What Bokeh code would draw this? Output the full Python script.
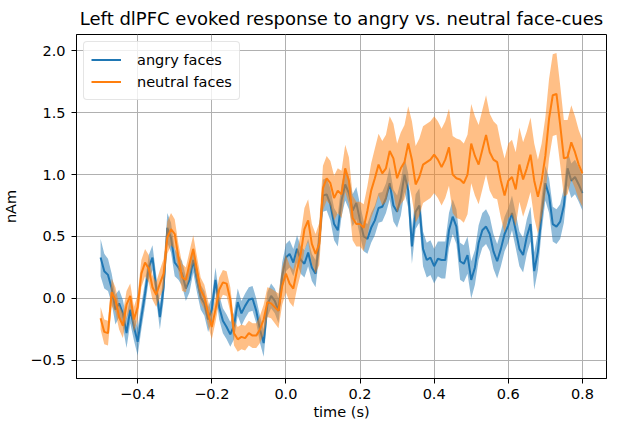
import numpy as np
from bokeh.plotting import figure
from bokeh.models import FixedTicker, Range1d
from bokeh.embed import file_html
from bokeh.resources import INLINE

# sample times: -0.50 .. 0.80 s, step 0.01 s
t_first = -0.5
t_step = 0.01

angry = [0.33, 0.22, 0.19, 0.08, -0.09, -0.04, -0.12, -0.28, -0.09, -0.23,
         -0.35, -0.15, 0.04, 0.25, 0.33, 0.09, -0.15, 0.09, 0.57, 0.49,
         0.29, 0.25, 0.20, 0.08, 0.15, 0.31, 0.15, 0.01, -0.04, -0.17,
         -0.09, 0.15, -0.07, -0.18, -0.23, -0.29, -0.22, -0.03, -0.12, -0.06,
         -0.01, 0.00, -0.10, -0.25, -0.36, -0.05, 0.02, -0.02, -0.10, 0.18,
         0.33, 0.36, 0.29, 0.40, 0.31, 0.28, 0.37, 0.25, 0.20, 0.47,
         0.83, 0.84, 0.76, 0.60, 0.55, 0.79, 0.92, 0.85, 0.71, 0.77,
         0.63, 0.50, 0.48, 0.57, 0.63, 0.73, 0.74, 0.81, 0.93, 0.75,
         0.70, 0.81, 1.00, 0.87, 0.42, 0.70, 0.75, 0.40, 0.31, 0.33,
         0.26, 0.32, 0.31, 0.31, 0.55, 0.66, 0.58, 0.30, 0.28, 0.35,
         0.15, 0.25, 0.45, 0.55, 0.58, 0.52, 0.38, 0.30, 0.40, 0.52,
         0.59, 0.69, 0.55, 0.40, 0.35, 0.50, 0.60, 0.22, 0.38, 0.68,
         0.93, 0.83, 0.60, 0.58, 0.62, 0.75, 1.05, 0.95, 0.98, 0.92, 0.85]

angry_sem = [0.15, 0.14, 0.13, 0.12, 0.12, 0.11, 0.11, 0.12, 0.11, 0.11,
             0.11, 0.10, 0.10, 0.10, 0.10, 0.10, 0.10, 0.11, 0.12, 0.12,
             0.11, 0.10, 0.10, 0.10, 0.10, 0.10, 0.10, 0.10, 0.10, 0.10,
             0.10, 0.10, 0.10, 0.10, 0.10, 0.10, 0.11, 0.11, 0.10, 0.10,
             0.10, 0.10, 0.10, 0.11, 0.11, 0.10, 0.10, 0.10, 0.10, 0.11,
             0.11, 0.11, 0.11, 0.11, 0.11, 0.11, 0.11, 0.11, 0.11, 0.12,
             0.13, 0.13, 0.13, 0.13, 0.13, 0.13, 0.13, 0.13, 0.13, 0.13,
             0.13, 0.12, 0.12, 0.12, 0.12, 0.12, 0.12, 0.12, 0.13, 0.13,
             0.13, 0.14, 0.14, 0.14, 0.14, 0.14, 0.14, 0.14, 0.14, 0.14,
             0.14, 0.14, 0.15, 0.15, 0.14, 0.14, 0.14, 0.15, 0.15, 0.15,
             0.15, 0.14, 0.14, 0.14, 0.14, 0.14, 0.14, 0.14, 0.14, 0.14,
             0.14, 0.14, 0.14, 0.14, 0.14, 0.14, 0.14, 0.15, 0.15, 0.14,
             0.14, 0.14, 0.14, 0.14, 0.14, 0.14, 0.14, 0.14, 0.14, 0.14, 0.14]

neutral = [-0.16, -0.27, -0.28, 0.05, -0.01, -0.15, -0.22, -0.05, 0.02, -0.17,
           -0.07, 0.20, 0.29, 0.24, 0.09, 0.03, 0.12, 0.20, 0.49, 0.56,
           0.52, 0.33, 0.17, 0.15, 0.28, 0.40, 0.23, 0.07, 0.01, -0.12,
           -0.23, -0.09, 0.07, 0.13, 0.12, -0.01, -0.28, -0.33, -0.31, -0.32,
           -0.28, -0.30, -0.30, -0.25, -0.17, -0.03, -0.04, -0.07, -0.10, 0.10,
           0.20, 0.12, 0.08, 0.23, 0.36, 0.56, 0.63, 0.44, 0.36, 0.44,
           0.89, 0.97, 0.93, 0.81, 0.87, 0.84, 1.05, 0.95, 0.65, 0.60,
           0.60, 0.57, 0.71, 0.87, 0.97, 1.08, 1.01, 1.05, 1.19, 1.13,
           0.97, 1.05, 1.10, 1.25, 1.12, 0.92, 0.98, 1.08, 1.10, 1.12,
           1.16, 1.12, 1.06, 1.12, 1.22, 1.00, 0.97, 0.96, 0.93, 1.00,
           1.25, 1.15, 1.08, 1.20, 1.32, 1.18, 1.12, 1.10, 0.95, 0.83,
           0.95, 0.98, 0.88, 1.08, 0.96, 1.05, 1.16, 0.95, 0.82, 0.95,
           1.15, 1.45, 1.64, 1.65, 1.40, 1.13, 1.14, 1.26, 1.18, 1.08, 1.01]

neutral_sem = [0.09, 0.10, 0.10, 0.11, 0.10, 0.10, 0.10, 0.11, 0.10, 0.10,
               0.10, 0.11, 0.11, 0.11, 0.10, 0.10, 0.11, 0.12, 0.13, 0.13,
               0.12, 0.11, 0.11, 0.10, 0.10, 0.11, 0.11, 0.10, 0.10, 0.10,
               0.10, 0.10, 0.10, 0.10, 0.10, 0.10, 0.10, 0.10, 0.10, 0.10,
               0.10, 0.10, 0.10, 0.11, 0.12, 0.12, 0.12, 0.13, 0.14, 0.15,
               0.15, 0.15, 0.15, 0.15, 0.16, 0.17, 0.17, 0.16, 0.16, 0.17,
               0.18, 0.18, 0.18, 0.18, 0.18, 0.19, 0.19, 0.19, 0.18, 0.18,
               0.18, 0.19, 0.20, 0.22, 0.24, 0.25, 0.26, 0.27, 0.28, 0.28,
               0.28, 0.29, 0.30, 0.30, 0.31, 0.31, 0.31, 0.31, 0.31, 0.31,
               0.31, 0.31, 0.31, 0.31, 0.31, 0.31, 0.32, 0.32, 0.32, 0.32,
               0.32, 0.32, 0.32, 0.32, 0.32, 0.31, 0.31, 0.30, 0.30, 0.30,
               0.30, 0.30, 0.30, 0.30, 0.30, 0.30, 0.30, 0.30, 0.30, 0.30,
               0.31, 0.32, 0.33, 0.33, 0.32, 0.31, 0.30, 0.30, 0.29, 0.28, 0.27]

x_ticks = [-0.4, -0.2, 0.0, 0.2, 0.4, 0.6, 0.8]
x_tick_labels = ["\u22120.4", "\u22120.2", "0.0", "0.2", "0.4", "0.6", "0.8"]
y_ticks = [-0.5, 0.0, 0.5, 1.0, 1.5, 2.0]
y_tick_labels = ["\u22120.5", "0.0", "0.5", "1.0", "1.5", "2.0"]

FONT = "DejaVu Sans"
BLUE = "#1f77b4"
ORANGE = "#ff7f0e"

times = np.round(t_first + t_step * np.arange(len(angry)), 2)
a = np.array(angry); a_s = np.array(angry_sem)
n = np.array(neutral); n_s = np.array(neutral_sem)

p = figure(frame_width=530, frame_height=344,
           min_border_left=69, min_border_right=9, min_border_top=26, min_border_bottom=40,
           x_range=Range1d(-0.565, 0.865), y_range=Range1d(-0.646, 2.13),
           output_backend="svg", toolbar_location=None,
           title="Left dlPFC evoked response to angry vs. neutral face-cues")

p.varea(x=times, y1=a - a_s, y2=a + a_s, fill_color=BLUE, fill_alpha=0.5)
p.line(x=times, y=a, line_color=BLUE, line_width=2, legend_label="angry faces")
p.varea(x=times, y1=n - n_s, y2=n + n_s, fill_color=ORANGE, fill_alpha=0.5)
p.line(x=times, y=n, line_color=ORANGE, line_width=2, legend_label="neutral faces")

p.title.text_font = FONT
p.title.text_font_size = "18px"
p.title.text_font_style = "normal"
p.title.align = "center"
p.title.text_color = "black"
p.title.standoff = 11

p.xaxis.ticker = FixedTicker(ticks=x_ticks)
p.yaxis.ticker = FixedTicker(ticks=y_ticks)
p.xaxis.major_label_overrides = dict(zip(x_ticks, x_tick_labels))
p.yaxis.major_label_overrides = dict(zip(y_ticks, y_tick_labels))
p.xaxis.axis_label = "time (s)"
p.yaxis.axis_label = "nAm"
for ax in (p.xaxis, p.yaxis):
    ax.major_label_text_font = FONT
    ax.major_label_text_font_size = "14.5px"
    ax.major_label_text_color = "black"
    ax.axis_label_text_font = FONT
    ax.axis_label_text_font_size = "14.5px"
    ax.axis_label_text_font_style = "normal"
    ax.axis_label_text_color = "black"
    ax.major_tick_in = 0
    ax.major_tick_out = 5
    ax.minor_tick_line_color = None
    ax.major_tick_line_color = "black"
    ax.axis_line_color = "black"
p.xaxis.axis_label_standoff = 2
p.yaxis.axis_label_standoff = 8
p.yaxis.major_label_standoff = 6

p.outline_line_color = "black"
p.outline_line_width = 1
p.outline_line_alpha = 1
p.grid.grid_line_color = "#b0b0b0"
p.grid.grid_line_width = 1
p.grid.grid_line_alpha = 1

lg = p.legend[0]
lg.location = "top_left"
lg.margin = 7
lg.padding = 7
lg.spacing = 1
lg.glyph_width = 30
lg.glyph_height = 21
lg.label_standoff = 16
lg.label_text_font = FONT
lg.label_text_font_size = "14.5px"
lg.label_text_color = "black"
lg.border_line_color = "#cccccc"
lg.border_line_width = 1
lg.background_fill_alpha = 0.8
lg.border_radius = 4

open("out.html", "w").write(file_html(p, INLINE))
